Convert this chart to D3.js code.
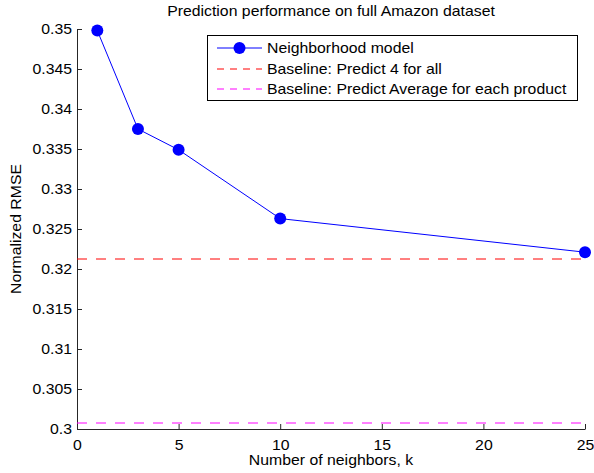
<!DOCTYPE html>
<html lang="en">
<head>
<meta charset="UTF-8">
<title>Prediction performance</title>
<script src="https://d3js.org/d3.v7.min.js"></script>
<style>
  body { margin: 0; background: #fff; }
  text { font-family: "Liberation Sans", Arial, sans-serif; fill: #000; }
  .axis path, .axis line { stroke: #262626; }
  .axis text { font-size: 14px; }
</style>
</head>
<body>
<svg id="chart" width="594" height="473"></svg>
<script>
// data
const neighbors = [1, 3, 5, 10, 25];
const rmse = [0.3498, 0.3375, 0.3349, 0.3263, 0.3221];
const baselineFour = 0.3212;
const baselineAvg = 0.3008;
const xTicks = [0, 5, 10, 15, 20, 25];
const yTicks = [0.3, 0.305, 0.31, 0.315, 0.32, 0.325, 0.33, 0.335, 0.34, 0.345, 0.35];
const legendLabels = ["Neighborhood model", "Baseline: Predict 4 for all", "Baseline: Predict Average for each product"];

const svg = d3.select("#chart");
const plotL = 77, plotR = 585, plotT = 29, plotB = 429;
const stretch = 1.13; // the original picture's text is a bit wider than Liberation Sans

const x = d3.scaleLinear().domain([0, 25]).range([plotL, plotR]);
const y = d3.scaleLinear().domain([0.3, 0.35]).range([plotB, plotT]);

// move x/y of a text node into a transform so it can be widened
function widen(sel, rot) {
    sel.each(function () {
        const t = d3.select(this);
        const tx = +t.attr("x") || 0, ty = +t.attr("y") || 0;
        t.attr("x", null).attr("y", null)
            .attr("transform", `translate(${tx},${ty})` + (rot ? ` rotate(${rot})` : "") + ` scale(${stretch},1)`);
    });
}

// axes (ticks pointing inward, matlab style)
svg.append("g")
    .attr("class", "axis")
    .attr("transform", `translate(0,${plotB})`)
    .call(d3.axisBottom(x).tickValues(xTicks).tickSizeInner(-5).tickSizeOuter(0).tickPadding(8).tickFormat(d3.format("d")))
    .call(g => g.selectAll("text").attr("dy", "0.9em").call(widen));

svg.append("g")
    .attr("class", "axis")
    .attr("transform", `translate(${plotL},0)`)
    .call(d3.axisLeft(y).tickValues(yTicks).tickSizeInner(-5).tickSizeOuter(0).tickPadding(5).tickFormat(d => String(+d.toFixed(3))))
    .call(g => g.selectAll("text").call(widen));

// baselines
svg.append("line")
    .attr("x1", x(0)).attr("x2", x(25))
    .attr("y1", Math.round(y(baselineFour))).attr("y2", Math.round(y(baselineFour)))
    .attr("stroke", "#ff0000").attr("stroke-width", 1)
    .attr("stroke-dasharray", "10,9");

svg.append("line")
    .attr("x1", x(0)).attr("x2", x(25))
    .attr("y1", Math.round(y(baselineAvg))).attr("y2", Math.round(y(baselineAvg)))
    .attr("stroke", "#ff00ff").attr("stroke-width", 1)
    .attr("stroke-dasharray", "10,9");

// neighborhood model
const pts = neighbors.map((k, i) => ({ k: k, v: rmse[i] }));
svg.append("path")
    .datum(pts)
    .attr("fill", "none")
    .attr("stroke", "#0000ff")
    .attr("stroke-width", 1)
    .attr("d", d3.line().x(d => x(d.k)).y(d => y(d.v)));

svg.selectAll(".dot")
    .data(pts)
    .enter()
    .append("circle")
    .attr("class", "dot")
    .attr("cx", d => x(d.k))
    .attr("cy", d => y(d.v))
    .attr("r", 6)
    .attr("fill", "#0000ff");

// title and labels
svg.append("text")
    .attr("x", (plotL + plotR) / 2).attr("y", 16)
    .attr("text-anchor", "middle").attr("font-size", 14)
    .text("Prediction performance on full Amazon dataset")
    .call(widen);

svg.append("text")
    .attr("x", (plotL + plotR) / 2).attr("y", 465)
    .attr("text-anchor", "middle").attr("font-size", 14)
    .text("Number of neighbors, k")
    .call(widen);

svg.append("text")
    .attr("x", 21).attr("y", (plotT + plotB) / 2)
    .attr("text-anchor", "middle").attr("font-size", 14)
    .text("Normalized RMSE")
    .call(widen, -90);

// legend
const legend = svg.append("g");
legend.append("rect")
    .attr("x", 207.5).attr("y", 35.5).attr("width", 370).attr("height", 65)
    .attr("fill", "#fff").attr("stroke", "#000").attr("stroke-width", 1);

const rowY = [48, 69, 89];
const legendColors = ["#0000ff", "#ff0000", "#ff00ff"];
legendLabels.forEach((lbl, i) => {
    const ln = legend.append("line")
        .attr("x1", 217).attr("x2", 262)
        .attr("y1", rowY[i]).attr("y2", rowY[i])
        .attr("stroke", legendColors[i]);
    if (i > 0) ln.attr("stroke-dasharray", "7,6");
    if (i === 0) legend.append("circle").attr("cx", 239.5).attr("cy", rowY[i]).attr("r", 6).attr("fill", "#0000ff");
    legend.append("text")
        .attr("x", 267).attr("y", rowY[i] + 5)
        .attr("font-size", 14)
        .text(lbl)
        .call(widen);
});
</script>
</body>
</html>
